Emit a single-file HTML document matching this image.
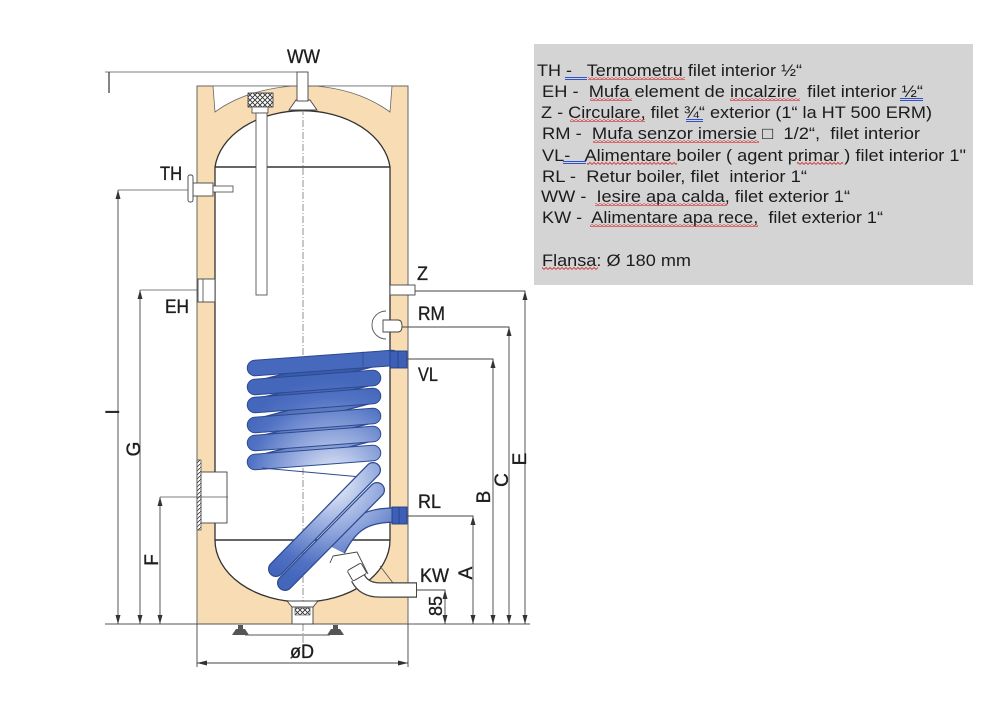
<!DOCTYPE html>
<html><head><meta charset="utf-8">
<style>
html,body{margin:0;padding:0;background:#fff;}
svg{display:block;}
.lab{font-family:"Liberation Sans",Arial,sans-serif;font-size:19px;fill:#1e1e1e;stroke:#1e1e1e;stroke-width:0.35;}
.leg{font-family:"Liberation Sans",Arial,sans-serif;font-size:17px;fill:#1c1c1c;white-space:pre;}
</style></head><body>
<svg width="1000" height="706" viewBox="0 0 1000 706" xmlns="http://www.w3.org/2000/svg">
<defs>
 <radialGradient id="cg" gradientUnits="userSpaceOnUse" cx="333" cy="482" r="105">
   <stop offset="0" stop-color="#eef2fb"/>
   <stop offset="0.35" stop-color="#a6b8e4"/>
   <stop offset="0.8" stop-color="#5273c4"/>
   <stop offset="1" stop-color="#4466bb"/>
 </radialGradient>
 <radialGradient id="cgb" gradientUnits="userSpaceOnUse" cx="333" cy="482" r="105">
   <stop offset="0" stop-color="#c9d4ef"/>
   <stop offset="0.4" stop-color="#7f96d2"/>
   <stop offset="1" stop-color="#3a5aaa"/>
 </radialGradient>
 <pattern id="xh" width="5" height="5" patternUnits="userSpaceOnUse">
   <rect width="5" height="5" fill="#fff"/>
   <path d="M0,0 L5,5 M5,0 L0,5" stroke="#333" stroke-width="0.9"/>
 </pattern>
 <pattern id="dh" width="4" height="4" patternUnits="userSpaceOnUse">
   <rect width="4" height="4" fill="#fff"/>
   <path d="M0,4 L4,0" stroke="#444" stroke-width="0.9"/>
 </pattern>
 <pattern id="wavy" width="4" height="3" patternUnits="userSpaceOnUse">
   <path d="M0,2.5 L2,0.5 L4,2.5" fill="none" stroke="#d42020" stroke-width="0.8"/>
 </pattern>
</defs>

<!-- Legend box -->
<rect x="534" y="44" width="439" height="241" fill="#d4d4d4"/>
<text class="leg" x="537" y="76" textLength="265" lengthAdjust="spacingAndGlyphs" xml:space="preserve">TH -   Termometru filet interior ½“</text>
<text class="leg" x="542" y="97" textLength="381" lengthAdjust="spacingAndGlyphs" xml:space="preserve">EH -  Mufa element de incalzire  filet interior ½“</text>
<text class="leg" x="541" y="118" textLength="391" lengthAdjust="spacingAndGlyphs" xml:space="preserve">Z - Circulare, filet ¾“ exterior (1“ la HT 500 ERM)</text>
<text class="leg" x="542" y="139" textLength="378" lengthAdjust="spacingAndGlyphs" xml:space="preserve">RM -  Mufa senzor imersie □  1/2“,  filet interior</text>
<text class="leg" x="542" y="161" textLength="424" lengthAdjust="spacingAndGlyphs" xml:space="preserve">VL-   Alimentare boiler ( agent primar ) filet interior 1"</text>
<text class="leg" x="542" y="182" textLength="265" lengthAdjust="spacingAndGlyphs" xml:space="preserve">RL -  Retur boiler, filet  interior 1“</text>
<text class="leg" x="541" y="202" textLength="309" lengthAdjust="spacingAndGlyphs" xml:space="preserve">WW -  Iesire apa calda, filet exterior 1“</text>
<text class="leg" x="542" y="223" textLength="341" lengthAdjust="spacingAndGlyphs" xml:space="preserve">KW -  Alimentare apa rece,  filet exterior 1“</text>
<text class="leg" x="542" y="266" textLength="149" lengthAdjust="spacingAndGlyphs" xml:space="preserve">Flansa: Ø 180 mm</text>
<!-- spell underlines -->
<g fill="url(#wavy)">
 <rect x="588" y="77" width="97" height="3"/>
 <rect x="590" y="98" width="42" height="3"/>
 <rect x="730" y="98" width="70" height="3"/>
 <rect x="570" y="119" width="75" height="3"/>
 <rect x="593" y="140" width="166" height="3"/>
 <rect x="587" y="162" width="90" height="3"/>
 <rect x="797" y="162" width="46" height="3"/>
 <rect x="595" y="203" width="132" height="3"/>
 <rect x="590" y="224" width="168" height="3"/>
 <rect x="542" y="267" width="56" height="3"/>
</g>
<g stroke="#3050d0" stroke-width="0.9">
 <path d="M565,77.5 H587 M565,79.5 H587"/>
 <path d="M900,98.5 H923 M900,100.5 H923"/>
 <path d="M686,119.5 H703 M686,121.5 H703"/>
 <path d="M563,161.5 H586 M563,163.5 H586"/>
</g>

<!-- Tank insulation -->
<rect x="197" y="86" width="211" height="538" fill="#f8dcb4" stroke="#666" stroke-width="1"/>
<path d="M213,86 L215,112 Q245,90 292,86 Z" fill="#fff" stroke="#666" stroke-width="0.8"/>
<path d="M392,86 L390,112 Q360,90 316,86 Z" fill="#fff" stroke="#666" stroke-width="0.8"/>

<!-- inner tank -->
<path d="M215,167 A88 63 0 0 1 390,167 L390,540 A87.5 62 0 0 1 215,540 Z" fill="#fff" stroke="#333" stroke-width="1.3"/>
<line x1="215" y1="167" x2="390" y2="167" stroke="#333" stroke-width="1.4"/>
<line x1="215" y1="540" x2="390" y2="540" stroke="#333" stroke-width="1.4"/>

<!-- centre line -->
<line x1="303" y1="72" x2="303" y2="648" stroke="#777" stroke-width="0.8" stroke-dasharray="7,2,1,2"/>

<!-- anode -->
<rect x="248" y="93" width="25" height="14" fill="url(#xh)" stroke="#333" stroke-width="0.8"/>
<rect x="252" y="107" width="16" height="6" fill="#fff" stroke="#444" stroke-width="0.8"/>
<rect x="256" y="113" width="11" height="182" fill="#fff" stroke="#555" stroke-width="0.9"/>

<!-- WW pipe -->
<path d="M289,110 L296,100 L310,100 L317,110 Z" fill="#fff" stroke="#444" stroke-width="0.9"/>
<rect x="297" y="72" width="11" height="29" fill="#fff" stroke="#444" stroke-width="0.9"/>

<!-- top line -->
<line x1="105" y1="72" x2="297" y2="72" stroke="#555" stroke-width="0.8"/>
<line x1="109" y1="72" x2="109" y2="93" stroke="#333" stroke-width="1.2"/>

<!-- TH thermometer -->
<line x1="118" y1="190" x2="190" y2="190" stroke="#555" stroke-width="0.8"/>
<rect x="193" y="183" width="20" height="13" fill="#fff" stroke="#444" stroke-width="0.9"/>
<rect x="213" y="186" width="20" height="6" fill="#fff" stroke="#444" stroke-width="0.8"/>
<rect x="188" y="175" width="5" height="27" rx="2" fill="#fff" stroke="#444" stroke-width="0.9"/>

<!-- EH top fitting -->
<rect x="198" y="279" width="17" height="23" fill="#fff" stroke="#444" stroke-width="0.9"/>
<line x1="203" y1="279" x2="203" y2="302" stroke="#444" stroke-width="0.8"/>
<line x1="140" y1="290" x2="198" y2="290" stroke="#555" stroke-width="0.8"/>

<!-- EH flange lower -->
<rect x="197" y="460" width="4" height="70" fill="url(#dh)" stroke="#444" stroke-width="0.7"/>
<rect x="201" y="472" width="26" height="51" fill="#fff" stroke="#444" stroke-width="0.9"/>
<line x1="160" y1="497" x2="228" y2="497" stroke="#555" stroke-width="0.8"/>

<!-- left dimension lines -->
<g stroke="#444" stroke-width="0.9">
 <line x1="118" y1="190" x2="118" y2="624"/>
 <line x1="140" y1="290" x2="140" y2="624"/>
 <line x1="160" y1="497" x2="160" y2="624"/>
</g>
<g fill="#333">
 <polygon points="118,190 115.5,199 120.5,199"/>
 <polygon points="140,290 137.5,299 142.5,299"/>
 <polygon points="160,497 157.5,506 162.5,506"/>
 <polygon points="118,624 115.5,615 120.5,615"/>
 <polygon points="140,624 137.5,615 142.5,615"/>
 <polygon points="160,624 157.5,615 162.5,615"/>
</g>

<!-- base line -->
<line x1="105" y1="624" x2="530" y2="624" stroke="#555" stroke-width="0.9"/>

<!-- Z fitting -->
<rect x="390" y="285" width="25" height="10" fill="#fff" stroke="#444" stroke-width="0.9"/>
<!-- RM -->
<path d="M386,311 A14 14 0 0 0 386,339" fill="#fff" stroke="#555" stroke-width="0.9"/>
<path d="M383,320 H398 Q402,320 402,326 Q402,332 398,332 H383 Z" fill="#fff" stroke="#444" stroke-width="0.9"/>

<!-- right dimension lines -->
<g stroke="#444" stroke-width="0.9" fill="none">
 <path d="M415,291 H525 V624"/>
 <path d="M402,327 H509 V624"/>
 <path d="M407,359 H493 V624"/>
 <path d="M407,516 H473 V624"/>
 <path d="M417,590 H445 V624"/>
 <line x1="408" y1="624" x2="408" y2="667"/>
 <line x1="197" y1="624" x2="197" y2="667"/>
 <line x1="197" y1="663" x2="408" y2="663"/>
</g>
<g fill="#333">
 <polygon points="525,291 522.5,300 527.5,300"/>
 <polygon points="509,327 506.5,336 511.5,336"/>
 <polygon points="493,359 490.5,368 495.5,368"/>
 <polygon points="473,516 470.5,525 475.5,525"/>
 <polygon points="445,590 442.5,599 447.5,599"/>
 <polygon points="525,624 522.5,615 527.5,615"/>
 <polygon points="509,624 506.5,615 511.5,615"/>
 <polygon points="493,624 490.5,615 495.5,615"/>
 <polygon points="473,624 470.5,615 475.5,615"/>
 <polygon points="445,624 442.5,615 447.5,615"/>
 <polygon points="197,663 207,660.5 207,665.5"/>
 <polygon points="408,663 398,660.5 398,665.5"/>
</g>

<!-- coil -->
<g stroke-linecap="round" fill="none">
 <!-- back pipes -->
 <g stroke-linecap="butt">
  <line x1="370" y1="360" x2="262" y2="387" stroke="#2d4a91" stroke-width="16"/>
  <line x1="370" y1="360" x2="262" y2="387" stroke="url(#cgb)" stroke-width="13.5"/>
  <line x1="370" y1="378" x2="262" y2="405" stroke="#2d4a91" stroke-width="16"/>
  <line x1="370" y1="378" x2="262" y2="405" stroke="url(#cgb)" stroke-width="13.5"/>
  <line x1="370" y1="396" x2="262" y2="425" stroke="#2d4a91" stroke-width="16"/>
  <line x1="370" y1="396" x2="262" y2="425" stroke="url(#cgb)" stroke-width="13.5"/>
  <line x1="370" y1="416" x2="262" y2="443" stroke="#2d4a91" stroke-width="16"/>
  <line x1="370" y1="416" x2="262" y2="443" stroke="url(#cgb)" stroke-width="13.5"/>
  <line x1="370" y1="434" x2="262" y2="462" stroke="#2d4a91" stroke-width="16"/>
  <line x1="370" y1="434" x2="262" y2="462" stroke="url(#cgb)" stroke-width="13.5"/>
 </g>

 <line x1="255" y1="368" x2="392" y2="358" stroke="#2d4a91" stroke-width="16.5"/>
 <line x1="255" y1="368" x2="392" y2="358" stroke="#4668bd" stroke-width="14.5"/>
 <line x1="363" y1="352" x2="363" y2="366" stroke="#2d4a91" stroke-width="0.8"/>

 <line x1="255" y1="387" x2="373" y2="378" stroke="#2d4a91" stroke-width="16.5"/>
 <line x1="255" y1="387" x2="373" y2="378" stroke="url(#cg)" stroke-width="14.5"/>
 <line x1="255" y1="405" x2="373" y2="396" stroke="#2d4a91" stroke-width="16.5"/>
 <line x1="255" y1="405" x2="373" y2="396" stroke="url(#cg)" stroke-width="14.5"/>
 <line x1="255" y1="425" x2="373" y2="416" stroke="#2d4a91" stroke-width="16.5"/>
 <line x1="255" y1="425" x2="373" y2="416" stroke="url(#cg)" stroke-width="14.5"/>
 <line x1="255" y1="443" x2="373" y2="434" stroke="#2d4a91" stroke-width="16.5"/>
 <line x1="255" y1="443" x2="373" y2="434" stroke="url(#cg)" stroke-width="14.5"/>
 <line x1="255" y1="462" x2="373" y2="453" stroke="#2d4a91" stroke-width="16.5"/>
 <line x1="255" y1="462" x2="373" y2="453" stroke="url(#cg)" stroke-width="14.5"/>
 <path d="M262,468 L372,478" stroke="#2d4a91" stroke-width="1" stroke-linecap="butt"/>

 <!-- RL pipe -->
 <path d="M338,550 C352,522 368,515 396,515" stroke="#2d4a91" stroke-width="15.5" stroke-linecap="butt"/>
 <path d="M338,550 C352,522 368,515 396,515" stroke="url(#cg)" stroke-width="13" stroke-linecap="butt"/>
 <!-- diagonal tubes -->
 <line x1="377" y1="490" x2="285" y2="583" stroke="#2d4a91" stroke-width="16"/>
 <line x1="377" y1="490" x2="285" y2="583" stroke="url(#cg)" stroke-width="13.5"/>
 <line x1="373" y1="470" x2="276" y2="569" stroke="#2d4a91" stroke-width="16"/>
 <line x1="373" y1="470" x2="276" y2="569" stroke="url(#cg)" stroke-width="13.5"/>
</g>
<!-- coil wall fittings -->
<rect x="390" y="351" width="17" height="17" fill="#3d5fb5" stroke="#233f85" stroke-width="0.9"/>
<line x1="398" y1="351" x2="398" y2="368" stroke="#233f85" stroke-width="0.8"/>
<rect x="392" y="507" width="15" height="17" fill="#3d5fb5" stroke="#233f85" stroke-width="0.9"/>
<line x1="399" y1="507" x2="399" y2="524" stroke="#233f85" stroke-width="0.8"/>

<!-- KW inlet -->
<path d="M333,556 L357,552 L368,574" fill="none" stroke="#444" stroke-width="0.9"/>
<path d="M333,556 L330,563" fill="none" stroke="#444" stroke-width="0.9"/>
<path d="M380,566 L393,583" fill="none" stroke="#555" stroke-width="0.8"/>
<path d="M358,578 Q364,590 380,590 L417,590" fill="none" stroke="#444" stroke-width="15.5"/>
<path d="M358,578 Q364,590 380,590 L416,590" fill="none" stroke="#fff" stroke-width="13"/>
<line x1="416.5" y1="583" x2="416.5" y2="597" stroke="#444" stroke-width="1"/>
<rect x="349" y="566" width="16" height="12" rx="2" transform="rotate(-30 357 572)" fill="#fff" stroke="#444" stroke-width="0.9"/>

<!-- drain -->
<path d="M287,601 L318,601 L313,607 L292,607 Z" fill="#fff" stroke="#444" stroke-width="0.9"/>
<rect x="292" y="607" width="21" height="17" fill="#fff" stroke="#444" stroke-width="0.9"/>
<rect x="295" y="608" width="15" height="7" fill="url(#xh)" stroke="#444" stroke-width="0.6"/>

<!-- feet -->
<g fill="#555">
 <polygon points="232,635 236,629 238,629 238,625 243,625 243,629 245,629 249,635"/>
 <polygon points="327,635 331,629 333,629 333,625 338,625 338,629 340,629 344,635"/>
</g>
<line x1="245" y1="635" x2="330" y2="635" stroke="#555" stroke-width="1"/>

<!-- labels -->
<text class="lab" x="287" y="63" textLength="33" lengthAdjust="spacingAndGlyphs">WW</text>
<text class="lab" x="160" y="180" textLength="22" lengthAdjust="spacingAndGlyphs">TH</text>
<text class="lab" x="165" y="313" textLength="24" lengthAdjust="spacingAndGlyphs">EH</text>
<text class="lab" x="417" y="280" textLength="11" lengthAdjust="spacingAndGlyphs">Z</text>
<text class="lab" x="418" y="320" textLength="27" lengthAdjust="spacingAndGlyphs">RM</text>
<text class="lab" x="418" y="381" textLength="20" lengthAdjust="spacingAndGlyphs">VL</text>
<text class="lab" x="418" y="508" textLength="23" lengthAdjust="spacingAndGlyphs">RL</text>
<text class="lab" x="420" y="582" textLength="29" lengthAdjust="spacingAndGlyphs">KW</text>
<text class="lab" x="290" y="658" textLength="24" lengthAdjust="spacingAndGlyphs">øD</text>
<g class="lab" text-anchor="middle">
 <text transform="translate(112,412) rotate(-90)" x="0" y="7">I</text>
 <text transform="translate(133,449) rotate(-90)" x="0" y="7">G</text>
 <text transform="translate(151,560) rotate(-90)" x="0" y="7">F</text>
 <text transform="translate(465,573) rotate(-90)" x="0" y="7">A</text>
 <text transform="translate(483,497) rotate(-90)" x="0" y="7">B</text>
 <text transform="translate(501,480) rotate(-90)" x="0" y="7">C</text>
 <text transform="translate(519,459) rotate(-90)" x="0" y="7">E</text>
 <text transform="translate(435,606) rotate(-90)" x="0" y="7" font-size="18">85</text>
</g>
</svg>
</body></html>
